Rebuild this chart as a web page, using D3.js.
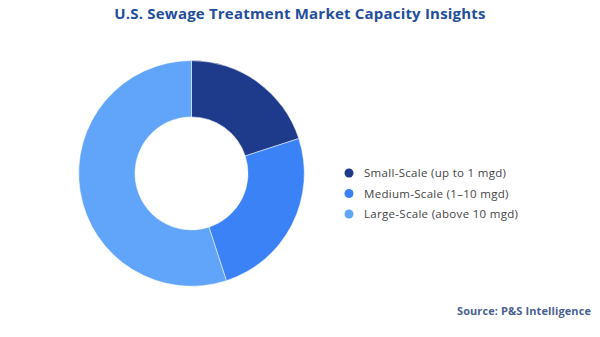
<!DOCTYPE html>
<html>
<head>
<meta charset="utf-8">
<script src="https://cdn.jsdelivr.net/npm/d3@7"></script>
<style>
  body { margin: 0; background: #fff; }
  svg text { font-family: "Open Sans", "Noto Sans", sans-serif; }
</style>
</head>
<body>
<div id="chart"></div>
<script>
// capacity share by plant size
var categories = ["Small-Scale (up to 1 mgd)", "Medium-Scale (1\u201310 mgd)", "Large-Scale (above 10 mgd)"];
var shares = [20, 25, 55];
var colors = ["#1e3a8a", "#3b82f6", "#60a5fa"];

var svgWidth = 600;
var svgHeight = 337;

var svg = d3.select("#chart")
  .append("svg")
  .attr("width", svgWidth)
  .attr("height", svgHeight);

svg.append("text")
  .attr("x", 300)
  .attr("y", 19)
  .attr("text-anchor", "middle")
  .attr("font-size", 15)
  .attr("font-weight", 700)
  .attr("letter-spacing", 0.2)
  .attr("fill", "#1f4e9c")
  .text("U.S. Sewage Treatment Market Capacity Insights");

var data = categories.map(function(c, i) {
  return { name: c, value: shares[i], color: colors[i] };
});

var pie = d3.pie()
  .sort(null)
  .value(d => d.value);

var arc = d3.arc()
  .innerRadius(56.5)
  .outerRadius(112.8);

var donut = svg.append("g")
  .attr("transform", "translate(191.5, 173.4)");

donut.selectAll("path")
  .data(pie(data))
  .enter()
  .append("path")
  .attr("d", arc)
  .attr("fill", d => d.data.color)
  .attr("stroke", "#fff")
  .attr("stroke-width", 0.5);

// legend
var legend = svg.append("g")
  .attr("transform", "translate(349, 173)");

var rows = legend.selectAll("g")
  .data(data)
  .enter()
  .append("g")
  .attr("transform", (d, i) => `translate(0, ${i * 20.5})`);

rows.append("circle")
  .attr("r", 4.5)
  .attr("fill", d => d.color);

rows.append("text")
  .attr("x", 15)
  .attr("y", 4)
  .attr("font-size", 11.5)
  .attr("letter-spacing", 0.3)
  .attr("fill", "#444")
  .text(d => d.name);

svg.append("text")
  .attr("x", 591)
  .attr("y", 315)
  .attr("text-anchor", "end")
  .attr("font-size", 11)
  .attr("font-weight", 700)
  .attr("letter-spacing", 0.1)
  .attr("fill", "#4a5f94")
  .text("Source: P&S Intelligence");
</script>
</body>
</html>
